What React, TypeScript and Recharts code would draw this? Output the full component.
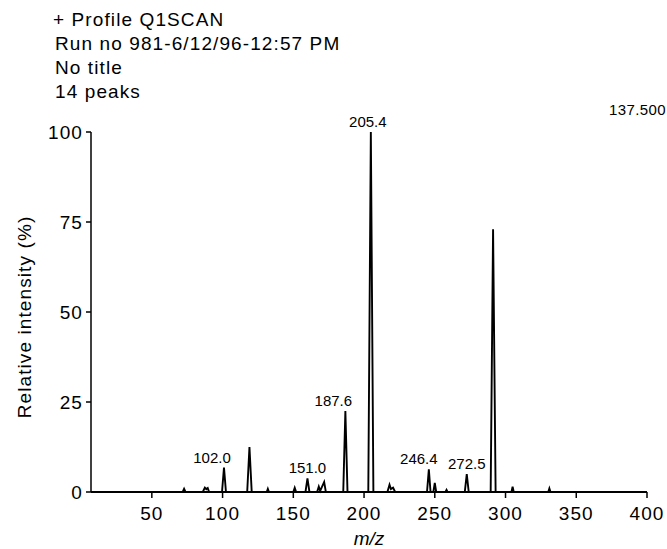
import { ComposedChart, Line, Scatter, XAxis, YAxis } from "recharts";

// profile trace: m/z and relative intensity (%)
const mzValues = [
  7, 64, 71.8, 72.8, 73.8, 86, 87.5, 88.5, 89.5, 90.5,
  99.6, 101, 102.4, 117.4, 119, 120.6, 131.2, 132, 132.8,
  150, 151, 152, 158.6, 160, 161.4, 166.8, 168, 169, 171.8, 173,
  185.3, 186.8, 188.3, 203, 204.8, 206.6, 216.5, 218, 219, 220.5, 222,
  244.5, 245.8, 247, 249, 250, 251, 257.5, 258.3, 259,
  271.2, 272.6, 274, 289.5, 291.2, 293, 304.2, 305, 305.8,
  330.2, 331, 331.8, 400,
];
const intensityValues = [
  0, 0, 0, 0.9, 0, 0, 1.2, 0.8, 1.1, 0,
  0, 6.8, 0, 0, 12.5, 0, 0, 0.9, 0,
  0, 1.2, 0, 0, 3.8, 0, 0, 1.5, 0.3, 2.8, 0,
  0, 22.5, 0, 0, 100, 0, 0, 2.0, 0.8, 1.2, 0,
  0, 6.3, 0, 0, 2.5, 0, 0, 0.6, 0,
  0, 5.0, 0, 0, 73, 0, 0, 1.5, 0,
  0, 1.0, 0, 0,
];

// annotated peaks
const peakMz = [101, 160, 186.8, 204.8, 245.8, 272.6];
const peakIntensity = [6.8, 3.8, 22.5, 100, 6.3, 5.0];
const peakText = ["102.0", "151.0", "187.6", "205.4", "246.4", "272.5"];

const xTicks = [50, 100, 150, 200, 250, 300, 350, 400];
const yTicks = [0, 25, 50, 75, 100];

const headerLines = [
  "+ Profile Q1SCAN",
  "Run no 981-6/12/96-12:57 PM",
  "No title",
  "14 peaks",
];

const trace = mzValues.map((mz, i) => ({ mz, intensity: intensityValues[i] }));
const peaks = peakMz.map((mz, i) => ({ mz, intensity: peakIntensity[i], text: peakText[i] }));

// horizontal nudge of each peak label, px
const nudge: Record<string, number> = {
  "102.0": -12,
  "151.0": 0,
  "187.6": -12,
  "205.4": -3,
  "246.4": -10,
  "272.5": 0,
};

const FONT = "'Liberation Sans', Arial, Helvetica, sans-serif";
const tickStyle = { fontSize: 19, fill: "#000", fontFamily: FONT, letterSpacing: 1.1 };

const PeakLabel = (props: any) => {
  const { cx, cy, payload } = props;
  return (
    <text
      x={cx + (nudge[payload.text] ?? 0)}
      y={cy - 5}
      textAnchor="middle"
      fontSize={15}
      fontFamily={FONT}
      fill="#000"
    >
      {payload.text}
    </text>
  );
};

export default function App() {
  return (
    <div
      style={{
        position: "absolute",
        left: 0,
        top: 0,
        width: 667,
        height: 549,
        background: "#fff",
        fontFamily: FONT,
        color: "#000",
      }}
    >
      {headerLines.map((line, i) => (
        <div
          key={line}
          style={{
            position: "absolute",
            left: i === 0 ? 53 : 55,
            top: 8 + i * 24,
            fontSize: 19,
            letterSpacing: 1.1,
            lineHeight: "24px",
            whiteSpace: "nowrap",
          }}
        >
          {line}
        </div>
      ))}
      <div
        style={{
          position: "absolute",
          right: 1,
          top: 101,
          fontSize: 15,
          letterSpacing: 0.4,
          whiteSpace: "nowrap",
        }}
      >
        137.500
      </div>

      <ComposedChart
        width={667}
        height={549}
        margin={{ top: 132, right: 20, bottom: 0, left: 0 }}
        style={{ position: "absolute", left: 0, top: 0 }}
      >
        <XAxis
          type="number"
          dataKey="mz"
          domain={[7, 400]}
          ticks={xTicks}
          allowDataOverflow
          height={57}
          tickSize={6}
          tickMargin={9}
          tick={tickStyle}
          axisLine={{ stroke: "#000", strokeWidth: 2 }}
          tickLine={{ stroke: "#000", strokeWidth: 1.5 }}
          label={(p: any) => {
            const vb = p.viewBox;
            return (
              <text
                x={vb.x + vb.width / 2}
                y={vb.y + 53}
                textAnchor="middle"
                fontSize={19}
                fontStyle="italic"
                fontFamily={FONT}
                fill="#000"
              >
                m/z
              </text>
            );
          }}
        />
        <YAxis
          type="number"
          domain={[0, 100]}
          ticks={yTicks}
          width={91}
          tickSize={5}
          tickMargin={3}
          tick={tickStyle}
          axisLine={{ stroke: "#000", strokeWidth: 1.5 }}
          tickLine={{ stroke: "#000", strokeWidth: 1.5 }}
          label={() => (
            <text
              x={31}
              y={317}
              transform="rotate(-90 31 317)"
              textAnchor="middle"
              fontSize={19}
              letterSpacing={1.1}
              fontFamily={FONT}
              fill="#000"
            >
              Relative intensity (%)
            </text>
          )}
        />
        <Line
          data={trace}
          dataKey="intensity"
          type="linear"
          stroke="#000"
          strokeWidth={1.9}
          dot={false}
          activeDot={false}
          isAnimationActive={false}
        />
        <Scatter
          data={peaks}
          dataKey="intensity"
          shape={PeakLabel}
          isAnimationActive={false}
        />
      </ComposedChart>
    </div>
  );
}
